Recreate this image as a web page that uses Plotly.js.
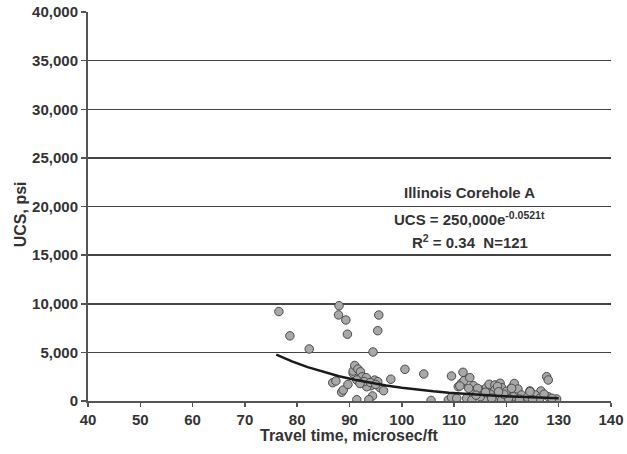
<!DOCTYPE html>
<html>
<head>
<meta charset="utf-8">
<script src="https://cdn.plot.ly/plotly-3.0.1.min.js"></script>
<style>html,body{margin:0;padding:0;background:#fff;}#chart{width:627px;height:454px;}</style>
</head>
<body>
<div id="chart"></div>
<script>
// Travel time (microsec/ft)
const travelTime = [
  76.5, 78.6, 82.3, 88.0, 87.9, 89.3, 89.6, 95.6, 95.4, 94.5,
  86.8, 87.4, 88.5, 88.8, 89.7, 90.7, 90.7, 91.0, 91.6, 92.1,
  92.4, 93.2, 91.4, 93.1, 94.1, 94.8, 95.4, 95.8, 96.5, 93.3,
  94.4, 91.4, 93.7, 97.9, 92.8, 94.0, 95.0, 92.0,
  100.6, 104.2, 105.6, 108.9, 109.5, 110.5, 109.5, 111.7, 110.8, 111.4, 111.9,
  113.0, 113.7, 115.1, 116.2, 116.7, 117.8, 118.8, 119.1, 117.8, 113.7,
  121.0, 112.4, 113.4, 115.7, 117.5, 119.1, 121.3, 120.4, 115.0, 116.9,
  114.5, 118.3, 120.0, 112.8, 116.0, 119.5, 114.2, 117.2, 118.5, 121.5,
  127.7, 128.0, 124.5, 126.6, 122.2, 122.9, 125.5, 128.0, 129.6, 123.6,
  128.7, 126.4, 124.0, 127.2, 125.0, 122.5, 111.1, 121.0, 124.5
];
// UCS (psi)
const ucs = [
  9200, 6700, 5350, 9800, 8850, 8330, 6870, 8840, 7230, 5040,
  1880, 2060, 900, 1130, 1700, 2850, 3080, 3650, 3280, 3000,
  2480, 2400, 2160, 1650, 1570, 2150, 1990, 1380, 1060, 1470,
  520, 130, 130, 2240, 2000, 1900, 1700, 1800,
  3260, 2780, 60, 100, 380, 280, 2570, 2950, 1470, 1820, 2090,
  2400, 1570, 1130, 1370, 1720, 1650, 1820, 1370, 1130, 1030,
  1370, 280, 100, 100, 100, 100, 440, 280, 440, 690,
  1300, 1500, 1000, 1300, 900, 700, 600, 300, 950, 1800,
  2500, 2160, 1030, 1030, 1230, 620, 620, 440, 210, 100,
  280, 280, 400, 700, 150, 200, 1540, 1300, 960
];
// Fitted curve: UCS = 250,000 e^(-0.0521 t)
const fitA = 250000;
const fitB = -0.0521;
const fitT = [76, 79, 82, 85, 88, 91, 94, 97, 100, 103, 106, 109, 112, 115, 118, 121, 124, 127, 130];
const fitUcs = fitT.map(t => fitA * Math.exp(fitB * t));

const xTicks = [40, 50, 60, 70, 80, 90, 100, 110, 120, 130, 140];
const yTicks = [0, 5000, 10000, 15000, 20000, 25000, 30000, 35000, 40000];

const xTitle = 'Travel time, microsec/ft';
const yTitle = 'UCS, psi';
const annLines = [
  'Illinois Corehole A',
  'UCS = 250,000e<sup>-0.0521t</sup>',
  'R<sup>2</sup> = 0.34  N=121'
];

const fam = 'Liberation Sans, Arial, sans-serif';
const txt = (size) => ({family: fam, size: size, color: '#333', weight: 'bold'});

const annY = [0.535, 0.470, 0.409];

const annotations = annLines.map((t, i) => ({
  xref: 'paper', yref: 'paper', x: 0.73, y: annY[i],
  xanchor: 'center', yanchor: 'middle', showarrow: false,
  align: 'center', text: t, font: txt(15)
}));
annotations.push({
  xref: 'paper', yref: 'paper', x: 0.5, y: -0.088,
  xanchor: 'center', yanchor: 'middle', showarrow: false,
  text: xTitle, font: txt(16), borderpad: 0
});
annotations.push({
  xref: 'paper', yref: 'paper', x: -0.13, y: 0.48,
  xanchor: 'center', yanchor: 'middle', showarrow: false, textangle: -90,
  text: yTitle, font: txt(16), borderpad: 0
});

Plotly.newPlot('chart', [
  {
    x: travelTime, y: ucs, type: 'scatter', mode: 'markers',
    marker: {size: 8.5, color: '#a8a8a8', line: {color: '#4a4a4a', width: 1}},
    hoverinfo: 'none'
  },
  {
    x: fitT, y: fitUcs, type: 'scatter', mode: 'lines',
    line: {color: '#1a1a1a', width: 2.5}, hoverinfo: 'none'
  }
], {
  width: 627, height: 454,
  margin: {l: 88, r: 16, t: 12, b: 53},
  paper_bgcolor: '#fff', plot_bgcolor: '#fff',
  showlegend: false,
  font: txt(14),
  xaxis: {
    range: [40, 140], tickvals: xTicks, ticktext: xTicks.map(String),
    showgrid: false, zeroline: false,
    showline: true, linecolor: '#555', linewidth: 2,
    ticks: 'outside', ticklen: 4, tickcolor: '#555', tickwidth: 1.5,
    tickfont: txt(15)
  },
  yaxis: {
    range: [0, 40000], tickvals: yTicks, ticktext: yTicks.map(v => v.toLocaleString('en-US')),
    showgrid: true, gridcolor: '#444', gridwidth: 1.5, zeroline: false,
    showline: true, linecolor: '#555', linewidth: 2,
    ticks: 'outside', ticklen: 5, tickcolor: '#555', tickwidth: 1.5,
    tickfont: txt(15)
  },
  shapes: [{
    type: 'rect', xref: 'paper', yref: 'paper', layer: 'between',
    x0: 0.568, x1: 0.878, y0: 0.48, y1: 0.52,
    fillcolor: '#fff', line: {width: 0}
  }],
  annotations: annotations
}, {staticPlot: true});
</script>
</body>
</html>
